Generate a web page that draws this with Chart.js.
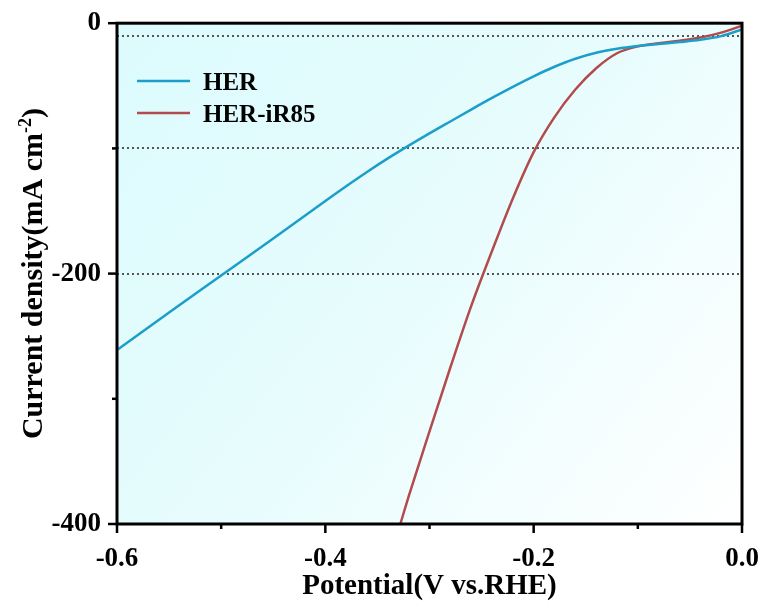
<!DOCTYPE html>
<html>
<head>
<meta charset="utf-8">
<script src="https://cdn.jsdelivr.net/npm/chart.js@4.4.1/dist/chart.umd.min.js"></script>
<style>
  html, body { margin: 0; padding: 0; background: #fff; }
  #wrap { width: 766px; height: 601px; }
</style>
</head>
<body>
<div id="wrap"><canvas id="chart" width="766" height="601"></canvas></div>
<script>
const herPotential = [-0.60, -0.55, -0.50, -0.45, -0.40, -0.38, -0.36, -0.34, -0.32, -0.30, -0.28, -0.26, -0.24, -0.22, -0.20, -0.18, -0.16, -0.14, -0.12, -0.10, -0.08, -0.06, -0.04, -0.02, 0.00];
const herCurrent = [-261, -231, -201.5, -172, -142, -130.2, -118.8, -108, -97.8, -88, -78.5, -69, -59.7, -50.8, -42.4, -34.8, -28.4, -23.6, -20.4, -18.2, -16.6, -15.1, -13.3, -10.3, -5];

const irPotential = [-0.328, -0.32, -0.30, -0.28, -0.26, -0.24, -0.22, -0.20, -0.18, -0.16, -0.14, -0.12, -0.10, -0.08, -0.06, -0.04, -0.02, 0.00];
const irCurrent = [-400, -378, -326, -275, -226, -182, -140, -103, -75, -53, -36, -24, -18.5, -16, -14, -11.5, -7.5, -2];

const refLevels = [-10, -100, -200];
const seriesNames = ['HER', 'HER-iR85'];
const seriesColors = ['#1b9fca', '#b24b4c'];

const serif = '"Liberation Serif", "Times New Roman", serif';

const toPoints = (xs, ys) => xs.map((x, i) => ({ x, y: ys[i] }));

const background = {
  id: 'background',
  beforeDraw(chart) {
    let { ctx, chartArea: a } = chart;
    let g = ctx.createLinearGradient(a.left, a.top, a.right, a.bottom);
    g.addColorStop(0, '#dcfbfd');
    g.addColorStop(0.45, '#e6fcfd');
    g.addColorStop(1, '#ffffff');
    ctx.save();
    ctx.fillStyle = g;
    ctx.fillRect(a.left, a.top, a.right - a.left, a.bottom - a.top);
    ctx.restore();
  }
};

const refLines = {
  id: 'refLines',
  beforeDatasetsDraw(chart) {
    let { ctx, chartArea: a, scales } = chart;
    ctx.save();
    ctx.strokeStyle = '#555';
    ctx.lineWidth = 2;
    ctx.setLineDash([2, 3]);
    refLevels.forEach(v => {
      let y = Math.round(scales.y.getPixelForValue(v));
      ctx.beginPath();
      ctx.moveTo(a.left, y);
      ctx.lineTo(a.right, y);
      ctx.stroke();
    });
    ctx.restore();
  }
};

const frame = {
  id: 'frame',
  afterDraw(chart) {
    let { ctx, chartArea: a, scales } = chart;
    ctx.save();
    ctx.strokeStyle = '#000';
    ctx.lineWidth = 3;
    ctx.strokeRect(a.left, a.top, a.right - a.left, a.bottom - a.top);

    ctx.lineWidth = 2.5;
    scales.x.ticks.forEach(t => {
      let x = scales.x.getPixelForValue(t.value);
      let len = t.label ? 9 : 5;
      ctx.beginPath();
      ctx.moveTo(x, a.bottom);
      ctx.lineTo(x, a.bottom + len);
      ctx.stroke();
    });
    scales.y.ticks.forEach(t => {
      let y = scales.y.getPixelForValue(t.value);
      let len = t.label ? 9 : 5;
      ctx.beginPath();
      ctx.moveTo(a.left, y);
      ctx.lineTo(a.left - len, y);
      ctx.stroke();
    });

    // legend
    ctx.font = 'bold 25px ' + serif;
    ctx.textBaseline = 'alphabetic';
    ctx.textAlign = 'left';
    seriesNames.forEach((name, i) => {
      let y = 81 + i * 32;
      ctx.strokeStyle = seriesColors[i];
      ctx.lineWidth = 2.5;
      ctx.beginPath();
      ctx.moveTo(137, y);
      ctx.lineTo(190, y);
      ctx.stroke();
      ctx.fillStyle = '#000';
      ctx.fillText(name, 203, y + 9);
    });

    // axis titles
    ctx.font = 'bold 29px ' + serif;
    ctx.textAlign = 'center';
    ctx.fillText('Potential(V vs.RHE)', (a.left + a.right) / 2, 594);

    let main = 'Current density(mA cm';
    let sup = '-2';
    let close = ')';
    ctx.font = 'bold 30px ' + serif;
    let wMain = ctx.measureText(main).width;
    let wClose = ctx.measureText(close).width;
    ctx.font = 'bold 18px ' + serif;
    let wSup = ctx.measureText(sup).width;
    let total = wMain + wSup + wClose;
    ctx.translate(42, (a.top + a.bottom) / 2);
    ctx.rotate(-Math.PI / 2);
    ctx.textAlign = 'left';
    let x0 = -total / 2;
    ctx.font = 'bold 30px ' + serif;
    ctx.fillText(main, x0, 0);
    ctx.font = 'bold 18px ' + serif;
    ctx.fillText(sup, x0 + wMain, -11);
    ctx.font = 'bold 30px ' + serif;
    ctx.fillText(close, x0 + wMain + wSup, 0);
    ctx.restore();
  }
};

new Chart(document.getElementById('chart'), {
  type: 'line',
  data: {
    datasets: [
      {
        label: seriesNames[0],
        data: toPoints(herPotential, herCurrent),
        borderColor: seriesColors[0],
        borderWidth: 2.5,
        pointRadius: 0,
        cubicInterpolationMode: 'monotone',
      },
      {
        label: seriesNames[1],
        data: toPoints(irPotential, irCurrent),
        borderColor: seriesColors[1],
        borderWidth: 2.5,
        pointRadius: 0,
        cubicInterpolationMode: 'monotone',
      },
    ]
  },
  options: {
    responsive: false,
    animation: false,
    layout: { padding: { top: 22, right: 24, left: 0, bottom: 0 } },
    plugins: {
      legend: { display: false },
      tooltip: { enabled: false },
    },
    scales: {
      x: {
        type: 'linear',
        min: -0.6,
        max: 0,
        // ticks are drawn by the frame plugin, tickLength only sets label offset
        grid: { display: false, drawTicks: true, tickLength: 17 },
        border: { display: false },
        ticks: {
          stepSize: 0.1,
          padding: 2,
          color: '#000',
          font: { family: serif, size: 27, weight: 'bold' },
          callback: v => {
            if (Math.abs(v) < 1e-9) return '0.0';
            return Math.round(v * 10) % 2 === 0 ? v.toFixed(1) : '';
          },
        },
        afterFit: s => { s.height = 77; },
      },
      y: {
        min: -400,
        max: 0,
        grid: { display: false, drawTicks: true, tickLength: 9 },
        border: { display: false },
        ticks: {
          stepSize: 100,
          padding: 7,
          color: '#000',
          font: { family: serif, size: 27, weight: 'bold' },
          callback: v => v % 200 === 0 ? String(v) : '',
        },
        afterFit: s => { s.width = 117; },
      },
    },
  },
  plugins: [background, refLines, frame],
});
</script>
</body>
</html>
